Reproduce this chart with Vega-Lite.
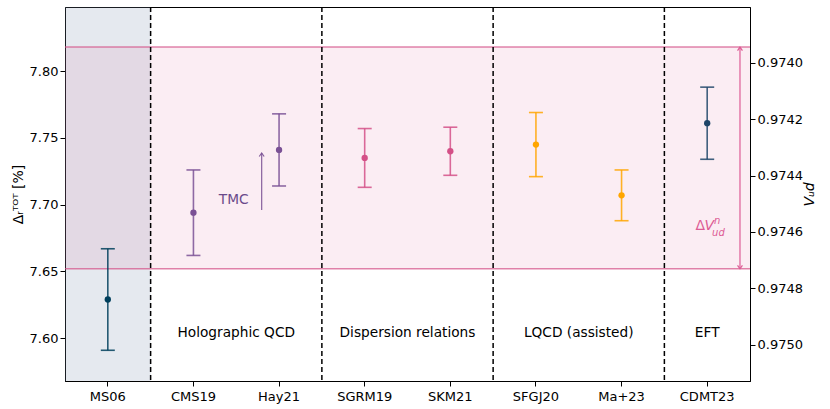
{
  "$schema": "https://vega.github.io/schema/vega-lite/v6.json",
  "width": 685,
  "height": 374,
  "autosize": {"type": "none"},
  "padding": {"left": 65, "top": 7, "right": 80, "bottom": 28},
  "background": "white",
  "config": {
    "font": "DejaVu Sans",
    "view": {"stroke": "black", "strokeWidth": 1},
    "axis": {
      "labelFontSize": 13, "titleFontSize": 13, "labelColor": "black", "titleColor": "black",
      "tickColor": "black", "domainColor": "black", "tickSize": 5, "grid": false,
      "titleFontWeight": "normal", "labelFont": "DejaVu Sans", "titleFont": "DejaVu Sans"
    }
  },
  "datasets": {
    "pts": [
      {"name": "MS06", "val": 7.629, "lo": 7.591, "hi": 7.667, "group": "MS06"},
      {"name": "CMS19", "val": 7.694, "lo": 7.662, "hi": 7.726, "group": "Holographic"},
      {"name": "Hay21", "val": 7.741, "lo": 7.714, "hi": 7.768, "group": "Holographic"},
      {"name": "SGRM19", "val": 7.735, "lo": 7.713, "hi": 7.757, "group": "Dispersion"},
      {"name": "SKM21", "val": 7.740, "lo": 7.722, "hi": 7.758, "group": "Dispersion"},
      {"name": "SFGJ20", "val": 7.745, "lo": 7.721, "hi": 7.769, "group": "LQCD"},
      {"name": "Ma+23", "val": 7.707, "lo": 7.688, "hi": 7.726, "group": "LQCD"},
      {"name": "CDMT23", "val": 7.761, "lo": 7.734, "hi": 7.788, "group": "EFT"}
    ],
    "seps": [{"name": "MS06"}, {"name": "Hay21"}, {"name": "SKM21"}, {"name": "Ma+23"}],
    "band": [{"lo": 7.652, "hi": 7.818}],
    "bandlines": [{"y": 7.652}, {"y": 7.818}],
    "grouplabels": [
      {"name": "CMS19", "label": "Holographic QCD", "y": 7.604},
      {"name": "SGRM19", "label": "Dispersion relations", "y": 7.604},
      {"name": "SFGJ20", "label": "LQCD (assisted)", "y": 7.604}
    ]
  },
  "layer": [
    {
      "layer": [
        {
          "data": {"values": [{"name": "MS06"}]},
          "mark": {"type": "rect", "color": "#7f93ad", "opacity": 0.2},
          "encoding": {
            "x": {"field": "name", "type": "nominal", "scale": {"type": "band", "paddingInner": 0, "paddingOuter": 0, "domain": ["MS06", "CMS19", "Hay21", "SGRM19", "SKM21", "SFGJ20", "Ma+23", "CDMT23"]}, "axis": {"title": null, "labelAngle": 0, "labelPadding": 4}}
          }
        },
        {
          "data": {"name": "band"},
          "mark": {"type": "rect", "color": "#d45087", "opacity": 0.1},
          "encoding": {
            "y": {"field": "lo", "type": "quantitative", "scale": {"domain": [7.568, 7.848], "nice": false, "zero": false}},
            "y2": {"field": "hi"}
          }
        },
        {
          "data": {"name": "bandlines"},
          "mark": {"type": "rule", "color": "#d45087", "opacity": 0.7, "strokeWidth": 1.5},
          "encoding": {
            "y": {"field": "y", "type": "quantitative", "scale": {"domain": [7.568, 7.848], "nice": false, "zero": false}}
          }
        },
        {
          "data": {"name": "seps"},
          "mark": {"type": "rule", "color": "black", "strokeDash": [5, 3], "strokeWidth": 1.5},
          "encoding": {
            "x": {"field": "name", "type": "nominal", "bandPosition": 1}
          }
        },
        {
          "data": {"name": "pts"},
          "mark": {"type": "rule", "strokeWidth": 1.6, "opacity": 0.85},
          "encoding": {
            "x": {"field": "name", "type": "nominal"},
            "y": {"field": "lo", "type": "quantitative", "scale": {"domain": [7.568, 7.848], "nice": false, "zero": false}},
            "y2": {"field": "hi"},
            "color": {"field": "group", "type": "nominal", "legend": null, "scale": {"domain": ["MS06", "Holographic", "Dispersion", "LQCD", "EFT"], "range": ["#003f5c", "#7a5195", "#d45087", "#ffa600", "#1f4568"]}}
          }
        },
        {
          "data": {"name": "pts"},
          "mark": {"type": "tick", "size": 14, "thickness": 1.6, "opacity": 0.85},
          "encoding": {
            "x": {"field": "name", "type": "nominal"},
            "y": {"field": "lo", "type": "quantitative", "scale": {"domain": [7.568, 7.848], "nice": false, "zero": false}},
            "color": {"field": "group", "type": "nominal", "legend": null}
          }
        },
        {
          "data": {"name": "pts"},
          "mark": {"type": "tick", "size": 14, "thickness": 1.6, "opacity": 0.85},
          "encoding": {
            "x": {"field": "name", "type": "nominal"},
            "y": {"field": "hi", "type": "quantitative", "scale": {"domain": [7.568, 7.848], "nice": false, "zero": false}},
            "color": {"field": "group", "type": "nominal", "legend": null}
          }
        },
        {
          "data": {"name": "pts"},
          "mark": {"type": "point", "filled": true, "size": 40, "opacity": 1},
          "encoding": {
            "x": {"field": "name", "type": "nominal"},
            "y": {"field": "val", "type": "quantitative", "scale": {"domain": [7.568, 7.848], "nice": false, "zero": false}, "axis": {"title": "Δᵣᵀᴼᵀ [%]", "values": [7.6, 7.65, 7.7, 7.75, 7.8], "format": ".2f", "titleFontSize": 14}},
            "color": {"field": "group", "type": "nominal", "legend": null}
          }
        },
        {
          "data": {"name": "grouplabels"},
          "mark": {"type": "text", "fontSize": 13.7, "color": "black", "align": "center", "baseline": "middle"},
          "encoding": {
            "x": {"field": "name", "type": "nominal", "bandPosition": 1},
            "y": {"field": "y", "type": "quantitative", "scale": {"domain": [7.568, 7.848], "nice": false, "zero": false}},
            "text": {"field": "label"}
          }
        },
        {
          "data": {"values": [{"name": "CDMT23", "label": "EFT", "y": 7.604}]},
          "mark": {"type": "text", "fontSize": 13.7, "color": "black", "align": "center", "baseline": "middle"},
          "encoding": {
            "x": {"field": "name", "type": "nominal"},
            "y": {"field": "y", "type": "quantitative", "scale": {"domain": [7.568, 7.848], "nice": false, "zero": false}},
            "text": {"field": "label"}
          }
        },
        {
          "data": {"values": [{"name": "CMS19", "label": "TMC", "y": 7.7035}]},
          "mark": {"type": "text", "fontSize": 13.7, "color": "#6a4a8a", "align": "center", "baseline": "middle"},
          "encoding": {
            "x": {"field": "name", "type": "nominal", "bandPosition": 0.97},
            "y": {"field": "y", "type": "quantitative", "scale": {"domain": [7.568, 7.848], "nice": false, "zero": false}},
            "text": {"field": "label"}
          }
        },
        {
          "data": {"values": [{"name": "Hay21", "lo": 7.696, "hi": 7.7387}]},
          "mark": {"type": "rule", "color": "#7a5195", "strokeWidth": 1.2, "opacity": 0.9},
          "encoding": {
            "x": {"field": "name", "type": "nominal", "bandPosition": 0.297},
            "y": {"field": "lo", "type": "quantitative", "scale": {"domain": [7.568, 7.848], "nice": false, "zero": false}},
            "y2": {"field": "hi"}
          }
        },
        {
          "data": {"values": [{"name": "Hay21", "y": 7.7387}]},
          "mark": {"type": "point", "shape": "M-0.7,1L0,0L0.7,1", "filled": false, "size": 49, "stroke": "#7a5195", "strokeWidth": 1.2, "opacity": 0.9},
          "encoding": {
            "x": {"field": "name", "type": "nominal", "bandPosition": 0.297},
            "y": {"field": "y", "type": "quantitative", "scale": {"domain": [7.568, 7.848], "nice": false, "zero": false}}
          }
        },
        {
          "data": {"values": [{"name": "CDMT23", "lo": 7.652, "hi": 7.818}]},
          "mark": {"type": "rule", "color": "#dd5c95", "strokeWidth": 1.2},
          "encoding": {
            "x": {"field": "name", "type": "nominal", "bandPosition": 0.883},
            "y": {"field": "lo", "type": "quantitative", "scale": {"domain": [7.568, 7.848], "nice": false, "zero": false}},
            "y2": {"field": "hi"}
          }
        },
        {
          "data": {"values": [{"name": "CDMT23", "y": 7.818}]},
          "mark": {"type": "point", "shape": "M-0.7,1L0,0L0.7,1", "filled": false, "size": 49, "stroke": "#dd5c95", "strokeWidth": 1.2, "opacity": 1},
          "encoding": {
            "x": {"field": "name", "type": "nominal", "bandPosition": 0.883},
            "y": {"field": "y", "type": "quantitative", "scale": {"domain": [7.568, 7.848], "nice": false, "zero": false}}
          }
        },
        {
          "data": {"values": [{"name": "CDMT23", "y": 7.652}]},
          "mark": {"type": "point", "shape": "M-0.7,-1L0,0L0.7,-1", "filled": false, "size": 49, "stroke": "#dd5c95", "strokeWidth": 1.2, "opacity": 1},
          "encoding": {
            "x": {"field": "name", "type": "nominal", "bandPosition": 0.883},
            "y": {"field": "y", "type": "quantitative", "scale": {"domain": [7.568, 7.848], "nice": false, "zero": false}}
          }
        },
        {
          "data": {"values": [{"name": "CDMT23", "label": "Δ", "y": 7.684}]},
          "mark": {"type": "text", "fontSize": 14, "color": "#dd5c95", "align": "right", "baseline": "middle", "dx": -9},
          "encoding": {
            "x": {"field": "name", "type": "nominal", "bandPosition": 0.58},
            "y": {"field": "y", "type": "quantitative", "scale": {"domain": [7.568, 7.848], "nice": false, "zero": false}},
            "text": {"field": "label"}
          }
        },
        {
          "data": {"values": [{"name": "CDMT23", "label": "V", "y": 7.684}]},
          "mark": {"type": "text", "fontSize": 14, "fontStyle": "italic", "color": "#dd5c95", "align": "right", "baseline": "middle", "dx": 0},
          "encoding": {
            "x": {"field": "name", "type": "nominal", "bandPosition": 0.58},
            "y": {"field": "y", "type": "quantitative", "scale": {"domain": [7.568, 7.848], "nice": false, "zero": false}},
            "text": {"field": "label"}
          }
        },
        {
          "data": {"values": [{"name": "CDMT23", "label": "n", "y": 7.684}]},
          "mark": {"type": "text", "fontSize": 10, "fontStyle": "italic", "color": "#dd5c95", "align": "left", "baseline": "middle", "dx": 0, "dy": -5},
          "encoding": {
            "x": {"field": "name", "type": "nominal", "bandPosition": 0.58},
            "y": {"field": "y", "type": "quantitative", "scale": {"domain": [7.568, 7.848], "nice": false, "zero": false}},
            "text": {"field": "label"}
          }
        },
        {
          "data": {"values": [{"name": "CDMT23", "label": "ud", "y": 7.684}]},
          "mark": {"type": "text", "fontSize": 10, "fontStyle": "italic", "color": "#dd5c95", "align": "left", "baseline": "middle", "dx": -2, "dy": 7},
          "encoding": {
            "x": {"field": "name", "type": "nominal", "bandPosition": 0.58},
            "y": {"field": "y", "type": "quantitative", "scale": {"domain": [7.568, 7.848], "nice": false, "zero": false}},
            "text": {"field": "label"}
          }
        }
      ]
    },
    {
      "data": {"values": [{"v": 0.974}, {"v": 0.975}]},
      "mark": {"type": "rule", "opacity": 0},
      "encoding": {
        "y": {
          "field": "v", "type": "quantitative",
          "scale": {"domain": [0.973803, 0.975128], "reverse": true, "nice": false, "zero": false},
          "axis": {"orient": "right", "values": [0.974, 0.9742, 0.9744, 0.9746, 0.9748, 0.975], "format": ".4f", "title": "Vᵤd", "titleFontStyle": "italic", "titleFontSize": 14, "titleAngle": -90, "titleBaseline": "bottom", "titlePadding": 14}
        }
      }
    }
  ],
  "resolve": {"scale": {"y": "independent"}}
}
